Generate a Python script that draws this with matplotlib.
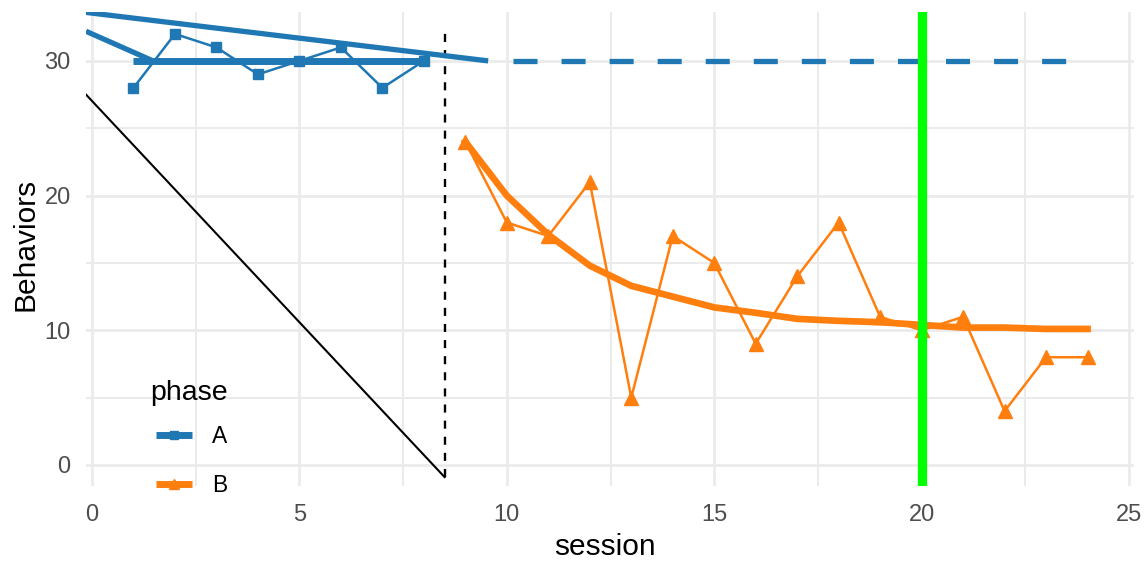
import numpy as np
import matplotlib
matplotlib.use('Agg')
import matplotlib.pyplot as plt
from matplotlib.lines import Line2D
from matplotlib.ticker import MultipleLocator

# ─── Data ────────────────────────────────────────────────────────────────────

sessions_a = [1, 2, 3, 4, 5, 6, 7, 8]
behaviors_a = [28, 32, 31, 29, 30, 31, 28, 30]

sessions_b = [9, 10, 11, 12, 13, 14, 15, 16, 17, 18, 19, 20, 21, 22, 23, 24]
behaviors_b = [24, 18, 17, 21, 5, 17, 15, 9, 14, 18, 11, 10, 11, 4, 8, 8]

# smoothed trend for phase B
trend_b = [24, 20.0, 17.1, 14.8, 13.3, 12.5, 11.7, 11.3, 10.85, 10.7, 10.6,
           10.4, 10.2, 10.2, 10.1, 10.1]

# phase A level line and its projection
level_a_x = [1, 8]
level_a_y = [30, 30]
proj_a_x = [10.15, 23.5]
proj_a_y = [30, 30]

# sloping reference lines
upper_slope_x = [-0.145, 9.55]
upper_slope_y = [33.6, 30.0]
lower_slope_x = [-0.145, 1.47]
lower_slope_y = [32.2, 30.0]
diag_x = [-0.145, 8.5]
diag_y = [27.5, -0.9]

phase_change_x = 8.5
phase_change_y = [-0.9, 32.5]
marker_session = 20

phase_labels = ['A', 'B']

BLUE = '#1F77B4'
ORANGE = '#FF7F0E'
GREEN = '#00FF00'
GRID = '#EBEBEB'
TICK = '#4D4D4D'

plt.rcParams['font.family'] = ['Liberation Sans', 'DejaVu Sans']
plt.rcParams['lines.scale_dashes'] = False

# ─── Figure ──────────────────────────────────────────────────────────────────

W, H = 1145, 561
fig = plt.figure(figsize=(W / 100, H / 100), dpi=100)
fig.patch.set_facecolor('white')
ax = fig.add_axes([86 / W, (H - 486) / H, (1134 - 86) / W, (486 - 12) / H])

ax.set_xlim(-0.145, 25.12)
ax.set_ylim(-1.56, 33.63)

ax.xaxis.set_major_locator(MultipleLocator(5))
ax.xaxis.set_minor_locator(MultipleLocator(2.5))
ax.yaxis.set_major_locator(MultipleLocator(10))
ax.yaxis.set_minor_locator(MultipleLocator(5))
ax.grid(which='major', color=GRID, lw=2.0, zorder=0)
ax.grid(which='minor', color=GRID, lw=1.4, zorder=0)
ax.set_axisbelow(True)
for spine in ax.spines.values():
    spine.set_visible(False)
ax.tick_params(which='both', length=0)
ax.tick_params(axis='x', labelsize=17, labelcolor=TICK, pad=13)
ax.tick_params(axis='y', labelsize=17, labelcolor=TICK, pad=11)

# reference lines
ax.plot(diag_x, diag_y, color='black', lw=1.5, zorder=2)
ax.plot([phase_change_x, phase_change_x], phase_change_y, color='black',
        lw=1.7, ls=(0, (5.8, 5.8)), zorder=2)
ax.plot(upper_slope_x, upper_slope_y, color=BLUE, lw=3.8, zorder=3,
        solid_capstyle='butt')
ax.plot(lower_slope_x, lower_slope_y, color=BLUE, lw=3.8, zorder=3,
        solid_capstyle='butt')
ax.plot(level_a_x, level_a_y, color=BLUE, lw=5, zorder=3, solid_capstyle='butt')
ax.plot(proj_a_x, proj_a_y, color=BLUE, lw=3.8, ls=(0, (17.3, 17.3)), zorder=3,
        dash_capstyle='butt')

# data series
ax.plot(sessions_a, behaviors_a, color=BLUE, lw=1.8, marker='s', ms=7.3,
        zorder=4)
ax.plot(sessions_b, trend_b, color=ORANGE, lw=4.8, zorder=3,
        solid_joinstyle='round')
ax.plot(sessions_b, behaviors_b, color=ORANGE, lw=1.8, marker='^', ms=9.5,
        zorder=4)

ax.axvline(marker_session, color=GREEN, lw=6.7, zorder=5)

ax.set_xlabel('session', fontsize=21.5, color='black')
ax.set_ylabel('Behaviors', fontsize=21.5, color='black')
ax.xaxis.set_label_coords((605 - 86) / 1048, (486 - 547) / 474)
ax.xaxis.label.set_va('center')
ax.yaxis.set_label_coords((25 - 86) / 1048, 0.51)
ax.yaxis.label.set_va('center')

# legend (title placed as its own text so its gap can be matched)
handles = [
    Line2D([], [], color=BLUE, lw=5, marker='s', ms=6, solid_capstyle='butt'),
    Line2D([], [], color=ORANGE, lw=5, marker='^', ms=7, solid_capstyle='butt'),
]
leg = ax.legend(handles, phase_labels, loc='center left',
                bbox_to_anchor=(156 / W, (H - 461) / H),
                bbox_transform=fig.transFigure, frameon=False,
                fontsize=16.5, handlelength=1.55, borderaxespad=0,
                handletextpad=0.9, labelspacing=1.11, borderpad=0)
fig.text(150 / W, (H - 393) / H, 'phase', fontsize=20.5, color='black',
         ha='left', va='center')

fig.savefig('out.png', dpi=100, facecolor='white')
